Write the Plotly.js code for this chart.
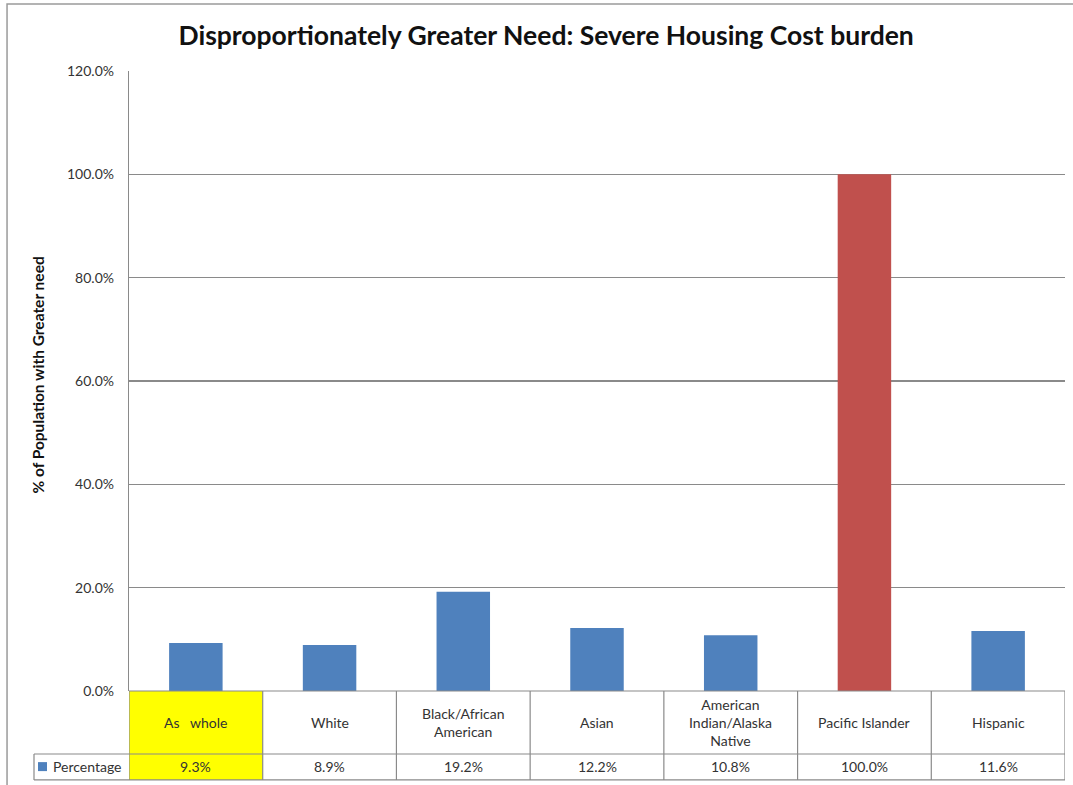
<!DOCTYPE html>
<html>
<head>
<meta charset="utf-8">
<script src="https://cdn.plot.ly/plotly-3.0.1.min.js"></script>
<style>html,body{margin:0;padding:0;background:#fff;}#chart{width:1073px;height:785px;}</style>
</head>
<body>
<div id="chart"></div>
<script>
const categories = ["As whole", "White", "Black/African American", "Asian", "American Indian/Alaska Native", "Pacific Islander", "Hispanic"];
const categoryLabels = ["As&#160;&#160;&#160;whole", "White", "Black/African<br>American", "Asian", "American<br>Indian/Alaska<br>Native", "Pacific Islander", "Hispanic"];
const percentage = [9.3, 8.9, 19.2, 12.2, 10.8, 100.0, 11.6];
const percentageLabels = ["9.3%", "8.9%", "19.2%", "12.2%", "10.8%", "100.0%", "11.6%"];
const barColors = ["#4F81BD", "#4F81BD", "#4F81BD", "#4F81BD", "#4F81BD", "#C0504D", "#4F81BD"];
const seriesName = "Percentage";

const FONT = "Lato, 'Liberation Sans', sans-serif";
const GRID = "#8a8a8a";
const TXT = "#333333";

// table geometry (paper units below the plot)
const rowSplit = -0.1016;
const tableBottom = -0.1435;
const legendLeft = -0.1015;

const shapes = [];
// outer chart border (left and top visible)
shapes.push({type: "rect", xref: "paper", yref: "paper", x0: -0.1303, x1: 1.1, y0: -0.2, y1: 1.108,
  line: {color: "#9a9a9a", width: 1.5}, layer: "below"});
// yellow highlight for first column
shapes.push({type: "rect", xref: "x", yref: "paper", x0: -0.5, x1: 0.5, y0: tableBottom, y1: 0,
  fillcolor: "#FFFF00", line: {width: 0}, layer: "below"});
// table vertical lines
for (let i = 0; i <= categories.length; i++) {
  shapes.push({type: "line", xref: "x", yref: "paper", x0: i - 0.5, x1: i - 0.5, y0: tableBottom, y1: 0,
    line: {color: GRID, width: 1.2}});
}
// horizontal lines
shapes.push({type: "line", xref: "paper", yref: "paper", x0: 0, x1: 1, y0: 0, y1: 0, line: {color: GRID, width: 1.2}});
shapes.push({type: "line", xref: "paper", yref: "paper", x0: legendLeft, x1: 1, y0: rowSplit, y1: rowSplit, line: {color: GRID, width: 1.2}});
shapes.push({type: "line", xref: "paper", yref: "paper", x0: legendLeft, x1: 1, y0: tableBottom, y1: tableBottom, line: {color: GRID, width: 1.2}});
shapes.push({type: "line", xref: "paper", yref: "paper", x0: legendLeft, x1: legendLeft, y0: tableBottom, y1: rowSplit, line: {color: GRID, width: 1.2}});
// legend key square
shapes.push({type: "rect", xref: "paper", yref: "paper", x0: -0.0972, x1: -0.0876, y0: -0.1292, y1: -0.1147,
  fillcolor: "#4F81BD", line: {width: 0}});

const annotations = [];
categories.forEach((c, i) => {
  annotations.push({xref: "x", yref: "paper", x: c, y: rowSplit / 2, text: categoryLabels[i], showarrow: false,
    xanchor: "center", yanchor: "middle", font: {family: FONT, size: 14, color: TXT}, align: "center"});
  annotations.push({xref: "x", yref: "paper", x: c, y: (rowSplit + tableBottom) / 2, text: percentageLabels[i], showarrow: false,
    xanchor: "center", yanchor: "middle", font: {family: FONT, size: 14, color: TXT}});
});
annotations.push({xref: "paper", yref: "paper", x: -0.0830, y: (rowSplit + tableBottom) / 2, text: seriesName, showarrow: false,
  xanchor: "left", yanchor: "middle", font: {family: FONT, size: 14, color: TXT}});
// y-axis title
annotations.push({xref: "paper", yref: "paper", x: -0.0975, y: 0.51, text: "<b>% of Population with Greater need</b>", showarrow: false,
  textangle: -90, xanchor: "center", yanchor: "middle", font: {family: FONT, size: 15.5, color: "#111"}});

const data = [{
  type: "bar",
  x: categories,
  y: percentage,
  name: seriesName,
  marker: {color: barColors, line: {width: 0}},
  hoverinfo: "x+y"
}];

const layout = {
  width: 1073,
  height: 785,
  margin: {l: 129, r: 8, t: 71, b: 94, pad: 0},
  paper_bgcolor: "#ffffff",
  plot_bgcolor: "#ffffff",
  showlegend: false,
  bargap: 0.6,
  title: {text: "<b>Disproportionately Greater Need: Severe Housing Cost burden</b>", x: 0.509, xanchor: "center",
    y: 0.954, yref: "container", yanchor: "middle", font: {family: FONT, size: 26.5, color: "#111"}},
  xaxis: {type: "category", showticklabels: false, showgrid: false, zeroline: false, showline: false,
    range: [-0.5, 6.5], fixedrange: true},
  yaxis: {range: [0, 120], dtick: 20, tickformat: ".1f", ticksuffix: "%", showgrid: true, gridcolor: GRID, gridwidth: 1.2,
    showline: true, linecolor: GRID, linewidth: 1.2, zeroline: false, ticks: "", ticklabelstandoff: 11,
    tickfont: {family: FONT, size: 14, color: TXT}, fixedrange: true},
  shapes: shapes,
  annotations: annotations
};

Plotly.newPlot("chart", data, layout, {displayModeBar: false, staticPlot: true});
</script>
</body>
</html>
